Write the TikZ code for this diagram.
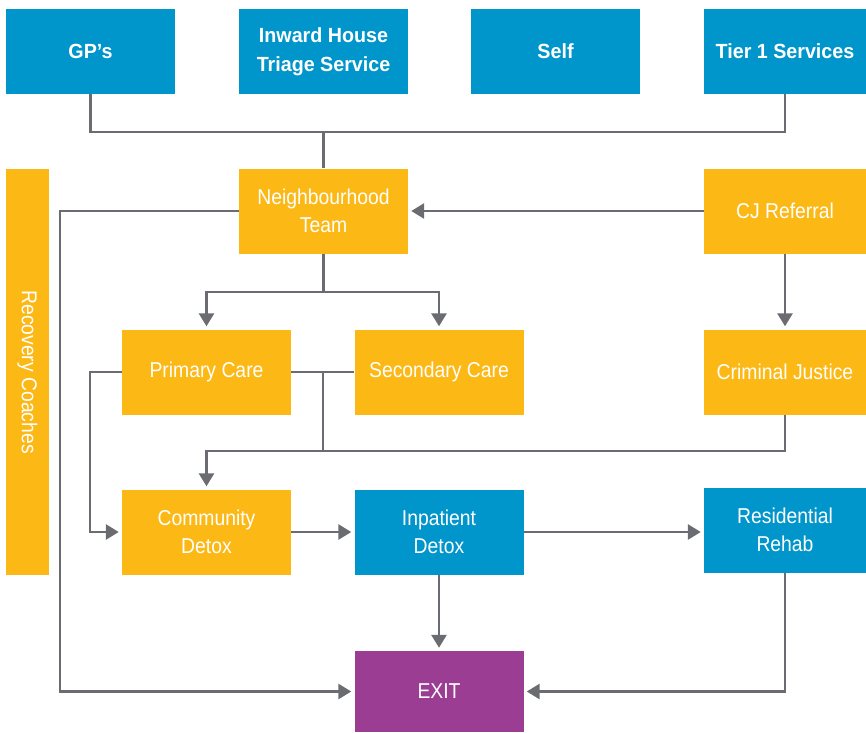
\documentclass[tikz,border=0pt]{standalone}
\usepackage{fontspec}
\setmainfont{Liberation Sans}[FakeStretch=0.9,BoldFeatures={FakeStretch=0.96}]
\usetikzlibrary{arrows.meta}
\definecolor{cblue}{HTML}{0095CB}
\definecolor{cyellow}{HTML}{FCB815}
\definecolor{cpurple}{HTML}{9B3D93}
\definecolor{cgray}{HTML}{6B6C71}
\tikzset{
  box/.style={rectangle, inner sep=0pt, text=white, align=center,
    font=\fontsize{21.5}{28.5}\selectfont},
  bluebox/.style={box, fill=cblue, font=\bfseries\fontsize{20.5}{29}\selectfont},
  bluelight/.style={box, fill=cblue},
  yellowbox/.style={box, fill=cyellow},
  purplebox/.style={box, fill=cpurple},
  wide/.style={minimum width=169pt, minimum height=85pt},
  wider/.style={minimum width=162pt, minimum height=85pt},
  conn/.style={draw=cgray, line width=2.8pt},
  arr/.style={conn, -{Triangle[length=13pt,width=15pt]}, shorten >=3pt},
}
\begin{document}
\begin{tikzpicture}[x=1pt,y=-1pt]
\useasboundingbox (0,0) rectangle (866,732);
% top row
\node[bluebox, wide] (gp) at (90.5,51.5) {GP’s};
\node[bluebox, wide] (iht) at (323.5,51.5) {Inward House\\Triage Service};
\node[bluebox, wide] (self) at (555.5,51.5) {Self};
\node[bluebox, wider] (tier) at (785,51.5) {Tier 1 Services};
% second row
\node[yellowbox, wide] (nt) at (323.5,211) {Neighbourhood\\Team};
\node[yellowbox, wider] (cj) at (785,211) {CJ Referral};
\node[yellowbox, minimum width=43pt, minimum height=406pt] (rc) at (27.5,372) {};
\node[text=white, font=\fontsize{21.5}{28}\selectfont, rotate=-90] (rct) at (rc.center) {Recovery Coaches};
% third row
\node[yellowbox, wide] (pc) at (206.5,372) {Primary Care};
\node[yellowbox, wide] (sc) at (439,372) {Secondary Care};
\node[yellowbox, wider] (crj) at (785,372) {Criminal Justice};
% fourth row
\node[yellowbox, wide] (cd) at (206.5,532) {Community\\Detox};
\node[bluelight, wide] (ip) at (439,532) {Inpatient\\Detox};
\node[bluelight, wider] (rr) at (785,530) {Residential\\Rehab};
% exit
\node[purplebox, minimum width=169pt, minimum height=81pt] (exit) at (439,691.5) {EXIT};
% coordinates
\coordinate (bus) at (323.5,132);
\coordinate (split) at (323.5,292);
\coordinate (j1) at (323,372);
\coordinate (j2) at (323,451);
\coordinate (lft) at (60,211);
\coordinate (pl) at (90,372);
% connectors
\draw[conn] (gp.south) |- (bus) -| (tier.south);
\draw[conn] (bus) -- (nt.north);
\draw[arr] (cj.west) -- (nt.east);
\draw[arr] (nt.west) -- (lft) |- (exit.west);
\draw[conn] (nt.south) -- (split);
\draw[arr] (split) -| (pc.north);
\draw[arr] (split) -| (sc.north);
\draw[arr] (cj.south) -- (crj.north);
\draw[arr] (pc.west) -- (pl) |- (cd.west);
\draw[conn] (pc.east) -- (sc.west);
\draw[conn] (j1) -- (j2);
\draw[arr] (crj.south) |- (cd.north |- j2) -- (cd.north);
\draw[arr] (cd.east) -- (ip.west);
\draw[arr] (ip.east) -- (rr.west |- ip.east);
\draw[arr] (ip.south) -- (exit.north);
\draw[arr] (rr.south) |- (exit.east);
\end{tikzpicture}
\end{document}
